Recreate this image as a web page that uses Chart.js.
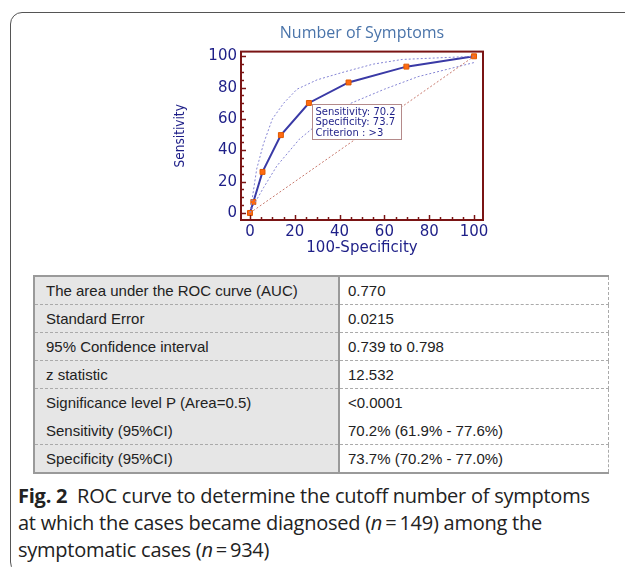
<!DOCTYPE html>
<html>
<head>
<meta charset="utf-8">
<script src="https://cdn.jsdelivr.net/npm/chart.js@4.4.1/dist/chart.umd.min.js"></script>
<style>
  body { margin: 0; background: #fff; width: 625px; height: 567px; overflow: hidden; position: relative; }
  .frame { position: absolute; left: 10px; top: 12px; width: 700px; height: 560px;
           border: 1.5px solid #555; border-radius: 12px; }
  #wrap { position: absolute; left: 160px; top: 20px; width: 340px; height: 240px; }
  table.stats { position: absolute; left: 33px; top: 275px; width: 576px; border-collapse: collapse;
                font-family: "Liberation Sans", Arial, sans-serif; font-size: 15px; color: #222; }
  table.stats td { height: 27px; padding: 0; border-bottom: 1px dashed #aaa; }
  table.stats td.k { width: 292px; padding-left: 11px; background: #e6e6e6; border-left: 2px solid #9a9a9a;
                     border-right: 2px solid #9a9a9a; }
  table.stats td.v { padding-left: 8px; border-right: 1px dashed #aaa; }
  table.stats tr:first-child td { border-top: 2px solid #9a9a9a; }
  table.stats tr:last-child td { border-bottom: 2px solid #9a9a9a; }
  table.stats tr.nosep td { border-bottom-color: transparent; }
  .caption { position: absolute; left: 18px; top: 482px; width: 610px; font-family: "Open Sans", sans-serif;
             font-size: 20px; line-height: 27px; color: #222; letter-spacing: -0.25px; }
</style>
</head>
<body>
<div class="frame"></div>
<div id="wrap"><canvas id="roc" width="340" height="240"></canvas></div>

<table class="stats" id="stats"></table>

<div class="caption"><b>Fig. 2</b>&nbsp; ROC curve to determine the cutoff number of symptoms<br>
at which the cases became diagnosed (<i>n</i>&thinsp;=&thinsp;149) among the<br>
symptomatic cases (<i>n</i>&thinsp;=&thinsp;934)</div>

<script>
// ROC points (100-Specificity, Sensitivity)
const fpr = [0, 1.5, 5.6, 13.8, 26.3, 44.0, 69.8, 100];
const tpr = [0, 7.0, 26.2, 49.7, 70.2, 83.3, 93.4, 100];

// 95% confidence bands
const upperX = [0, 1, 3, 6, 10, 15, 21, 30, 42, 55, 68, 100];
const upperY = [0, 9, 28, 44, 60, 70, 79, 85, 90, 95, 98, 100];
const lowerX = [0, 2, 6, 12, 22, 33, 45, 60, 75, 100];
const lowerY = [0, 6, 16, 30, 47, 60, 70, 79, 87, 96];

// reference diagonal
const diagX = [0, 100];
const diagY = [0, 100];

const tickValues = [0, 20, 40, 60, 80, 100];

const statLabels = [
  'The area under the ROC curve (AUC)',
  'Standard Error',
  '95% Confidence interval',
  'z statistic',
  'Significance level P (Area=0.5)',
  'Sensitivity (95%CI)',
  'Specificity (95%CI)'
];
const statValues = ['0.770', '0.0215', '0.739 to 0.798', '12.532', '<0.0001',
  '70.2% (61.9% - 77.6%)', '73.7% (70.2% - 77.0%)'];

const criterion = ['Sensitivity: 70.2', 'Specificity: 73.7', 'Criterion : >3'];
const criterionIndex = 4;

// table
const tbl = document.getElementById('stats');
statLabels.forEach((lab, i) => {
  const tr = document.createElement('tr');
  if (i === 4) tr.className = 'nosep';
  const a = document.createElement('td'); a.className = 'k'; a.textContent = lab;
  const b = document.createElement('td'); b.className = 'v'; b.textContent = statValues[i];
  tr.appendChild(a); tr.appendChild(b); tbl.appendChild(tr);
});

const pts = (xs, ys) => xs.map((x, i) => ({ x: x, y: ys[i] }));

const navy = '#1e1f88';
const maroon = '#7a1414';

// frame, inward ticks and the criterion box
const rocDecor = {
  id: 'rocDecor',
  afterDraw(chart) {
    const { ctx, chartArea: a, scales: { x, y } } = chart;
    ctx.save();
    ctx.strokeStyle = maroon;
    ctx.lineWidth = 1.5;
    for (let v = 0; v <= 100; v += 5) {
      const len = v % 20 === 0 ? 5 : 3;
      const py = Math.round(y.getPixelForValue(v)) + 0.5;
      ctx.beginPath(); ctx.moveTo(a.left, py); ctx.lineTo(a.left + len, py); ctx.stroke();
      const px = Math.round(x.getPixelForValue(v)) + 0.5;
      ctx.beginPath(); ctx.moveTo(px, a.bottom); ctx.lineTo(px, a.bottom - len); ctx.stroke();
    }
    ctx.lineWidth = 2;
    ctx.strokeRect(a.left, a.top, a.right - a.left, a.bottom - a.top);

    // criterion label
    const px = x.getPixelForValue(fpr[criterionIndex]);
    const py = y.getPixelForValue(tpr[criterionIndex]);
    const bx = Math.round(px + 3) + 0.5, by = Math.round(py + 1) + 0.5;
    ctx.fillStyle = '#fff';
    ctx.fillRect(bx, by, 89, 35);
    ctx.strokeStyle = '#b48a8a';
    ctx.lineWidth = 1;
    ctx.strokeRect(bx, by, 89, 35);
    ctx.fillStyle = navy;
    ctx.font = '10px "DejaVu Sans", sans-serif';
    ctx.textBaseline = 'middle';
    criterion.forEach((t, i) => ctx.fillText(t, bx + 3, by + 7.5 + i * 10.5));
    ctx.restore();
  }
};

new Chart(document.getElementById('roc'), {
  type: 'scatter',
  data: {
    datasets: [
      { data: pts(diagX, diagY), showLine: true, borderColor: '#c87a6e', borderWidth: 1,
        borderDash: [2, 2], pointRadius: 0 },
      { data: pts(upperX, upperY), showLine: true, borderColor: '#8585d4', borderWidth: 1,
        borderDash: [2, 2], pointRadius: 0 },
      { data: pts(lowerX, lowerY), showLine: true, borderColor: '#8585d4', borderWidth: 1,
        borderDash: [2, 2], pointRadius: 0 },
      { data: pts(fpr, tpr), showLine: true, borderColor: '#3a3aa6', borderWidth: 2,
        pointStyle: 'rect', pointRadius: 3.5, pointBackgroundColor: '#ff6a10',
        pointBorderColor: '#e05a00', pointBorderWidth: 1 }
    ]
  },
  options: {
    responsive: false,
    animation: false,
    layout: { padding: { left: 0, right: 17, top: 0, bottom: 0 } },
    plugins: {
      legend: { display: false },
      tooltip: { enabled: false },
      title: {
        display: true,
        fullSize: false,
        text: 'Number of Symptoms',
        color: '#4a74aa',
        font: { family: '"Open Sans", sans-serif', size: 16, weight: 'normal', lineHeight: 1.1 },
        padding: { top: 5, bottom: 9 }
      }
    },
    scales: {
      x: {
        type: 'linear', min: -4, max: 104,
        grid: { display: false, drawTicks: false },
        border: { display: false },
        afterBuildTicks: s => { s.ticks = tickValues.map(v => ({ value: v })); },
        afterFit: s => { s.height = 40; },
        ticks: { color: navy, padding: 3, font: { family: '"DejaVu Sans", sans-serif', size: 15 } },
        title: { display: true, text: '100-Specificity', color: navy, padding: { top: 0, bottom: 3 },
                 font: { family: '"DejaVu Sans", sans-serif', size: 15 } }
      },
      y: {
        type: 'linear', min: -4.5, max: 103,
        grid: { display: false, drawTicks: false },
        border: { display: false },
        afterBuildTicks: s => { s.ticks = tickValues.map(v => ({ value: v })); },
        afterFit: s => { s.width = 81; },
        ticks: { color: navy, padding: 4, font: { family: '"DejaVu Sans", sans-serif', size: 15 } },
        title: { display: true, text: 'Sensitivity', color: navy, padding: { top: 12, bottom: 0 },
                 font: { family: '"DejaVu Sans Condensed", "Liberation Sans Narrow", sans-serif', size: 13.5 } }
      }
    }
  },
  plugins: [rocDecor]
});
</script>
</body>
</html>
